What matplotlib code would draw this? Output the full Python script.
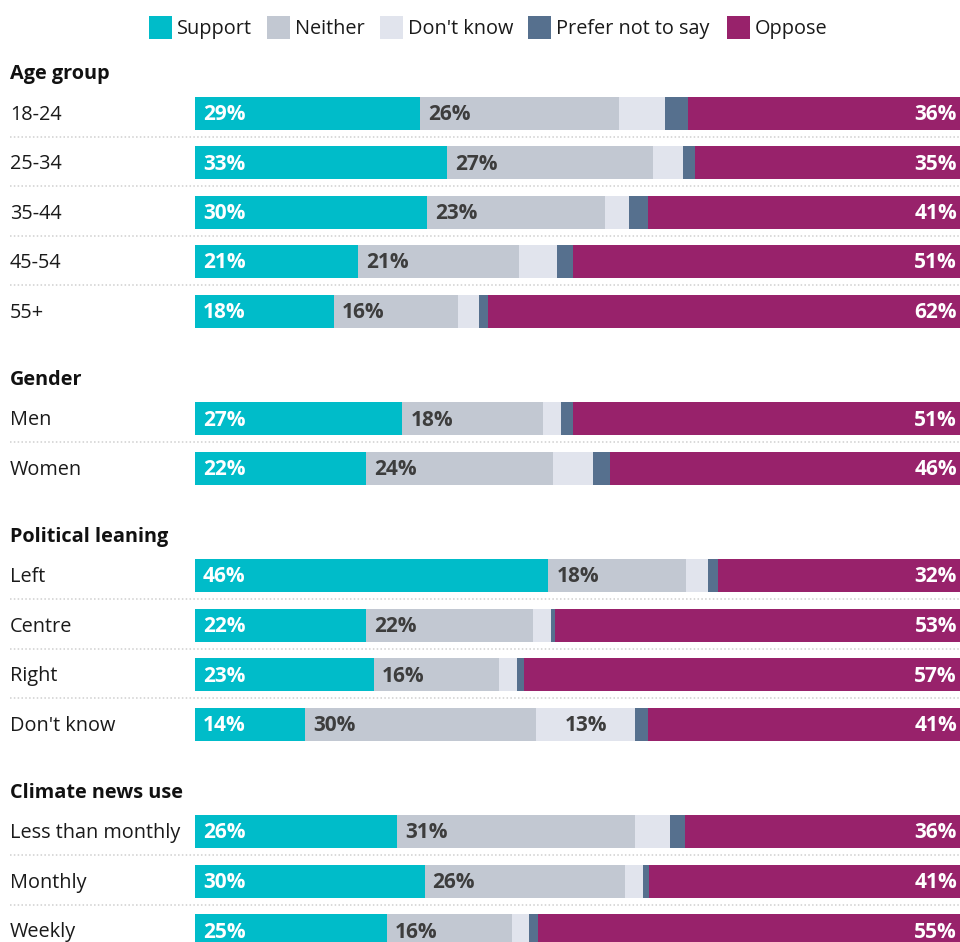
import matplotlib
matplotlib.use("Agg")
import matplotlib.pyplot as plt
from matplotlib.patches import Rectangle
from matplotlib import font_manager

bold_ok = {f.name for f in font_manager.fontManager.ttflist if f.weight in (700, 'bold')}
FONT = 'Open Sans' if 'Open Sans' in bold_ok else ('Noto Sans' if 'Noto Sans' in bold_ok else 'Roboto')
plt.rcParams['font.family'] = [FONT, 'DejaVu Sans']

series = ["Support", "Neither", "Don't know", "Prefer not to say", "Oppose"]
colors = ["#00BCC9", "#C2C8D2", "#E1E4ED", "#56708E", "#98226B"]
label_colors = ["white", "#3d3d3d", "#3d3d3d", "white", "white"]

groups = ["Age group", "Gender", "Political leaning", "Climate news use"]
categories = [
    ["18-24", "25-34", "35-44", "45-54", "55+"],
    ["Men", "Women"],
    ["Left", "Centre", "Right", "Don't know"],
    ["Less than monthly", "Monthly", "Weekly"],
]
support    = [29.4, 33.0, 30.3, 21.3, 18.2, 27.1, 22.4, 46.2, 22.4, 23.4, 14.4, 26.4, 30.0, 25.1]
neither    = [26.0, 26.9, 23.3, 21.0, 16.2, 18.4, 24.4, 18.0, 21.8, 16.4, 30.2, 31.1, 26.2, 16.3]
dont_know  = [6.0, 3.9, 3.1, 5.0, 2.7, 2.3, 5.2, 2.8, 2.3, 2.3, 12.9, 4.6, 2.4, 2.2]
prefer_not = [3.0, 1.6, 2.5, 2.1, 1.2, 1.6, 2.3, 1.4, 0.6, 0.9, 1.7, 2.0, 0.8, 1.3]
oppose     = [35.6, 34.6, 40.8, 50.6, 61.7, 50.6, 45.7, 31.6, 52.9, 57.0, 40.8, 35.9, 40.6, 55.1]

values = [support, neither, dont_know, prefer_not, oppose]

# ---- layout (pixels) ----
W, H, DPI = 960, 942, 100
BAR_X0, BAR_X1 = 195, 960
PX_PER_PCT = (BAR_X1 - BAR_X0) / 100.0


def px(p):
    return (p - BAR_X0) / PX_PER_PCT


FS = 14.3
FS_BAR = 15.0
CAP = 6.8        # half cap height, px
CAP_BAR = 7.0

fig = plt.figure(figsize=(W / DPI, H / DPI), dpi=DPI)
ax = fig.add_axes([0, 0, 1, 1])
ax.set_xlim(px(0), px(W))
ax.set_ylim(H, 0)
ax.axis("off")

first_header = 72.5
header_to_row = 40.5
row_step = 49.5
group_gap = 67
bar_h = 33

row_y = []
header_y = []
y = first_header
for g, cats in zip(groups, categories):
    header_y.append(y)
    ys = [y + header_to_row + i * row_step for i in range(len(cats))]
    row_y.append(ys)
    y = ys[-1] + group_gap

flat_y = [yy for ys in row_y for yy in ys]

# bars
lefts = [0.0] * len(flat_y)
for vals, col in zip(values, colors):
    ax.barh(flat_y, vals, left=lefts, height=bar_h, color=col, linewidth=0)
    lefts = [l + v for l, v in zip(lefts, vals)]

# segment labels
pad = 8 / PX_PER_PCT
for i, yy in enumerate(flat_y):
    start = 0.0
    for s, vals in enumerate(values):
        v = vals[i]
        if v >= 10 and s != 3:
            txt = f"{v:.0f}%"
            if s in (0, 1):
                xx, ha = start + pad, "left"
            elif s == 2:
                xx, ha = start + v / 2, "center"
            else:
                xx, ha = 100 - 3 / PX_PER_PCT, "right"
            ax.text(xx, yy + CAP_BAR, txt, ha=ha, va="baseline", fontsize=FS_BAR,
                    fontweight="bold", color=label_colors[s])
        start += v

# category labels, headers, separators
for g, cats, ys, hy in zip(groups, categories, row_y, header_y):
    ax.text(px(10), hy + CAP, g, ha="left", va="baseline", fontsize=FS,
            fontweight="bold", color="#111111")
    for j, (c, yy) in enumerate(zip(cats, ys)):
        ax.text(px(10), yy + CAP, c, ha="left", va="baseline", fontsize=FS,
                color="#1a1a1a")
        if j < len(cats) - 1:
            ax.plot([px(10), px(W)], [yy + 23.5, yy + 23.5], color="#cfcfcf",
                    lw=1.1, ls=(0, (1, 1.5)))

# legend
leg_x = [149, 267, 380, 528, 727]
leg_y = 27.5
sq = 23
for name, col, lx in zip(series, colors, leg_x):
    ax.add_patch(Rectangle((px(lx), leg_y - sq / 2), sq / PX_PER_PCT, sq,
                           facecolor=col, edgecolor="none"))
    ax.text(px(lx + 28), leg_y + CAP, name, ha="left", va="baseline",
            fontsize=FS, color="#1a1a1a")

fig.savefig("out.png", dpi=DPI)
